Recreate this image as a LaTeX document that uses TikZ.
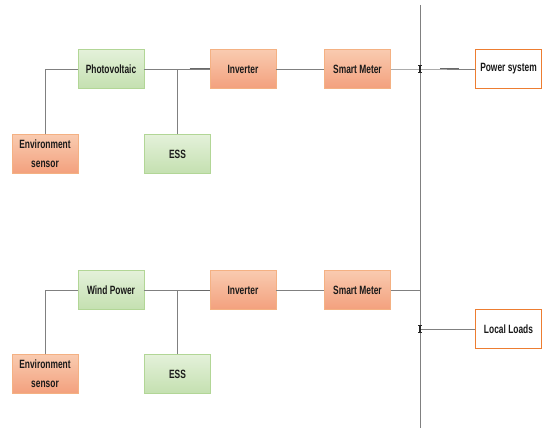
\documentclass[tikz,border=0pt]{standalone}
\usepackage{fontspec}
\setmainfont{Liberation Sans}[FakeStretch=0.7]
\begin{document}
\begin{tikzpicture}[x=1pt,y=-1pt,
  every node/.style={font=\fontsize{12}{19}\selectfont\bfseries, text=black!90, align=center, inner sep=1pt},
  orangebox/.style={draw={rgb,255:red,244;green,177;blue,131}, line width=0.6pt, top color={rgb,255:red,249;green,203;blue,176}, bottom color={rgb,255:red,243;green,160;blue,125}, minimum width=66pt, minimum height=39pt},
  greenbox/.style={draw={rgb,255:red,178;green,214;blue,150}, line width=0.6pt, top color={rgb,255:red,228;green,241;blue,218}, bottom color={rgb,255:red,196;green,224;blue,176}, minimum width=66pt, minimum height=39pt},
  whitebox/.style={draw={rgb,255:red,237;green,125;blue,49}, line width=0.7pt, fill=white, minimum width=66pt, minimum height=39pt},
  conn/.style={draw={rgb,255:red,128;green,128;blue,128}, line width=0.8pt},
  darkseg/.style={draw={rgb,255:red,105;green,105;blue,105}, line width=1.0pt},
  sw/.style={draw=black!85, line width=1.4pt},
  swcap/.style={draw=black!85, line width=0.8pt}
]
\useasboundingbox (0,0) rectangle (547,428);
% top row
\node[greenbox]  (pv1)  at (111,69) {Photovoltaic};
\node[orangebox] (env1) at (45,154) {Environment\\sensor};
\node[greenbox]  (ess1) at (177.5,154) {ESS};
\node[orangebox] (inv1) at (243,69) {Inverter};
\node[orangebox] (sm1)  at (357.5,69) {Smart Meter};
\node[whitebox]  (ps)   at (508.5,69) {Power system};
% bottom row
\node[greenbox]  (pv2)  at (111,290) {Wind Power};
\node[orangebox] (env2) at (45,374) {Environment\\sensor};
\node[greenbox]  (ess2) at (177.5,374) {ESS};
\node[orangebox] (inv2) at (243,290) {Inverter};
\node[orangebox] (sm2)  at (357.5,290) {Smart Meter};
\node[whitebox]  (ll)   at (508.5,329) {Local Loads};
% bus
\coordinate (bustop) at (420,5);
\coordinate (busbot) at (420,428);
\coordinate (sw1) at (420,69);
\coordinate (sw2) at (420,329);
\coordinate (j2) at (420,290);
\draw[conn] (bustop) -- (busbot);
% connectors top
\draw[conn] (env1.north) |- (pv1.west);
\draw[conn] (pv1.east) -- (inv1.west);
\draw[conn] (ess1.north) -- (ess1.north |- pv1.east);
\draw[conn] (inv1.east) -- (sm1.west);
\draw[conn] (sm1.east) -- (sw1) -- (ps.west);
\draw[darkseg] ([xshift=-20pt]inv1.west) -- (inv1.west);
\draw[darkseg] ([xshift=-35pt]ps.west) -- ([xshift=-16pt]ps.west);
% connectors bottom
\draw[conn] (env2.north) |- (pv2.west);
\draw[conn] (pv2.east) -- (inv2.west);
\draw[conn] (ess2.north) -- (ess2.north |- pv2.east);
\draw[conn] (inv2.east) -- (sm2.west);
\draw[conn] (sm2.east) -- (j2);
\draw[conn] (sw2) -- (ll.west);
\draw[darkseg] ([xshift=-20pt]inv2.west) -- (inv2.west);
% switch marks
\draw[sw] (sw1) ++(0,-3.5) -- ++(0,7);
\draw[swcap] (sw1) ++(-1.8,-3.5) -- ++(3.6,0);
\draw[swcap] (sw1) ++(-1.8,3.5) -- ++(3.6,0);
\draw[sw] (sw2) ++(0,-3.5) -- ++(0,7);
\draw[swcap] (sw2) ++(-1.8,-3.5) -- ++(3.6,0);
\draw[swcap] (sw2) ++(-1.8,3.5) -- ++(3.6,0);
\end{tikzpicture}
\end{document}
